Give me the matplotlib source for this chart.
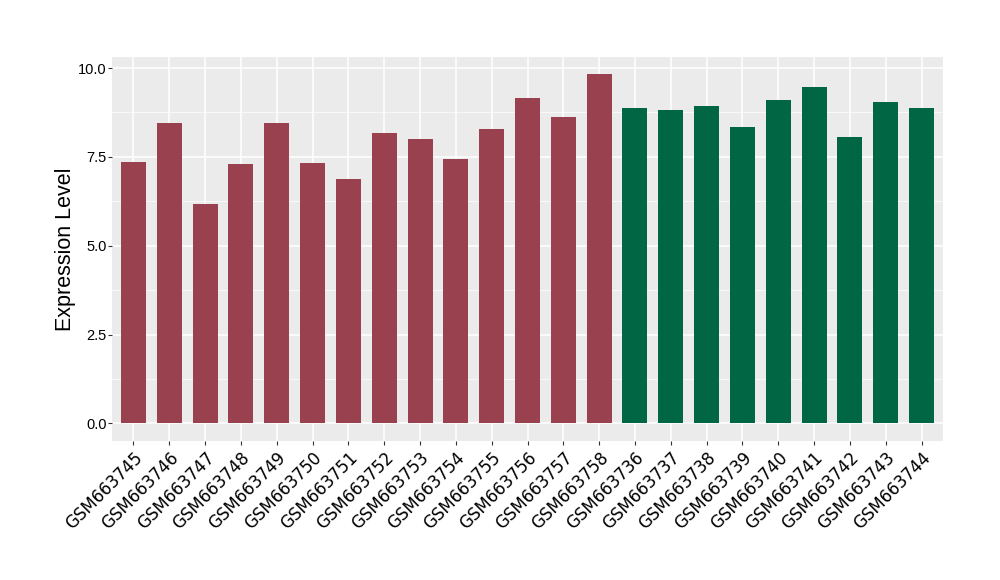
import numpy as np
import matplotlib
matplotlib.use('Agg')
import matplotlib.pyplot as plt
from matplotlib.ticker import MultipleLocator

# Sample IDs and expression values
samples = ['GSM663745', 'GSM663746', 'GSM663747', 'GSM663748', 'GSM663749',
           'GSM663750', 'GSM663751', 'GSM663752', 'GSM663753', 'GSM663754',
           'GSM663755', 'GSM663756', 'GSM663757', 'GSM663758',
           'GSM663736', 'GSM663737', 'GSM663738', 'GSM663739', 'GSM663740',
           'GSM663741', 'GSM663742', 'GSM663743', 'GSM663744']
values = [7.35, 8.45, 6.17, 7.29, 8.45, 7.32, 6.87, 8.16, 7.99, 7.43,
          8.28, 9.15, 8.61, 9.82,
          8.89, 8.81, 8.92, 8.33, 9.09, 9.46, 8.05, 9.04, 8.89]
groups = ['A'] * 14 + ['B'] * 9

group_colors = {'A': '#9A4150', 'B': '#006644'}

fig = plt.figure(figsize=(10, 5.8), dpi=100)
ax = fig.add_axes([0.112, 0.24, 0.831, 0.6617])
ax.set_facecolor('#EBEBEB')

x = np.arange(1, len(samples) + 1)
ax.bar(x, values, width=0.7, color=[group_colors[g] for g in groups],
       zorder=3)

# ggplot-like expansion
n = len(samples)
ax.set_xlim(0.4, n + 0.6)
vmax = max(values)
ax.set_ylim(-0.05 * vmax, vmax * 1.05)

ax.yaxis.set_major_locator(MultipleLocator(2.5))
ax.yaxis.set_minor_locator(MultipleLocator(1.25))
ax.set_xticks(x)
ax.set_xticklabels(samples, rotation=45, ha='right', rotation_mode='anchor',
                   fontsize=12, color='black', family='DejaVu Sans')
ax.set_yticklabels(['%.1f' % v for v in ax.get_yticks()],
                   family='Liberation Sans')
ax.tick_params(axis='y', labelsize=10.5, colors='black', length=3,
               color='#333333', pad=1)
ax.tick_params(axis='y', which='minor', length=0)
ax.tick_params(axis='x', length=3, color='#333333', pad=3)

ax.grid(True, which='major', color='white', linewidth=1.1, zorder=0)
ax.grid(True, which='minor', axis='y', color='white', linewidth=0.5, zorder=0)
ax.set_axisbelow(True)
for s in ax.spines.values():
    s.set_visible(False)

ax.set_ylabel('Expression Level', fontsize=15.5, family='Liberation Sans',
              labelpad=1.5)

fig.savefig('out.png', dpi=100)
